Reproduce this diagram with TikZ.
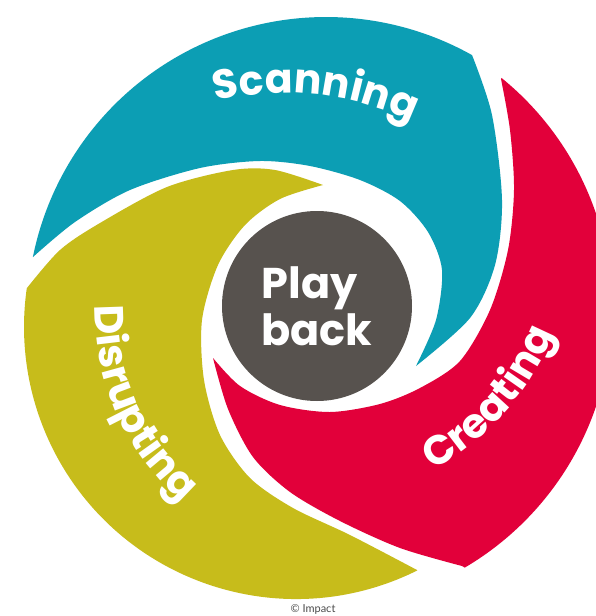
\documentclass[tikz,border=0pt]{standalone}
\usepackage{fontspec}
\setmainfont{Poppins}
\newfontfamily\notafont{Lato}
\usetikzlibrary{calc,decorations.text}
\pgfdeclarelayer{aspas}
\pgfsetlayers{aspas, main}
\definecolor{scanblue}{HTML}{0C9EB4}
\definecolor{createred}{HTML}{E2003A}
\definecolor{disruptolive}{HTML}{C7BC1B}
\definecolor{centergray}{HTML}{57524E}
\newcommand{\etiqueta}{\bfseries\fontsize{41}{41}\selectfont}
\tikzstyle{centro}=[circle,fill=centergray,text=white,inner sep=0pt,minimum size=190pt,align=left,font=\bfseries\fontsize{43}{47}\selectfont]
\tikzstyle{rotulo}=[decorate,decoration={text along path,text align=center,text color=white}]
\tikzstyle{nota}=[text=black!70,font=\notafont\fontsize{11}{12}\selectfont,inner sep=0pt]

\begin{document}
\begin{tikzpicture}[x=1pt,y=-1pt]
		\useasboundingbox (0,0) rectangle (596,616);
		\begin{pgfonlayer}{aspas}
			\clip (0,0) rectangle (596,616);
			\fill[white] (0,0) rectangle (596,616);
			% scanning blade, top
			\fill[scanblue] ($(326,316)+(-168.6:299)$) arc[start angle=-168.6,end angle=-60.8,radius=299]
				-- plot[smooth] coordinates {(472,55) (492,115) (502,200) (495,265) (470,318) (416,366)}
				-- plot[smooth] coordinates {(416,366) (436,320) (442,270) (428,232) (400,201) (360,180) (310,166) (260,161) (200,168) (130,190) (75,222) (33,257)} -- cycle;
			% creating blade, right
			\fill[createred] ($(313,310)+(-50.9:299)$) arc[start angle=-50.9,end angle=59.5,radius=299]
				-- plot[smooth] coordinates {(462,566) (400,548) (340,521) (290,492) (253,457) (228,409) (213,358)}
				-- plot[smooth] coordinates {(213,358) (240,386) (280,405) (330,412) (380,404) (420,388) (460,361) (490,310) (508,250) (514,190) (510,130) (501,79)} -- cycle;
			% disrupting blade, left
			\fill[disruptolive] plot[smooth] coordinates {(323,185) (280,199) (245,225) (218,265) (202,320) (204,380) (220,435) (250,478) (293,508) (350,535) (417,570)}
				-- ($(296,327)+(63.5:272)$) arc[start angle=63.5,end angle=188.25,radius=272]
				-- plot[smooth] coordinates {(27,288) (60,250) (100,223) (167,187) (233,170) (275,170) (323,185)} -- cycle;
		\end{pgfonlayer}
		\node[centro] (pb) at (317,306) {Play\\back};
		\path[rotulo,decoration={text={|\etiqueta|Scanning}}] ($(285,386)+(-116:293)$) arc[start angle=-116,end angle=-52,radius=293];
		\path[rotulo,decoration={text={|\etiqueta|Creating}}] ($(299,230)+(80:275)$) arc[start angle=80,end angle=3,radius=275];
		\path[rotulo,decoration={text={|\etiqueta|Disrupting}}] ($(345,312)+(-165:250)$) arc[start angle=-165,end angle=-243,radius=250];
		\node[nota] (copy) at (313,609) {© Impact};
	\end{tikzpicture}
\end{document}
